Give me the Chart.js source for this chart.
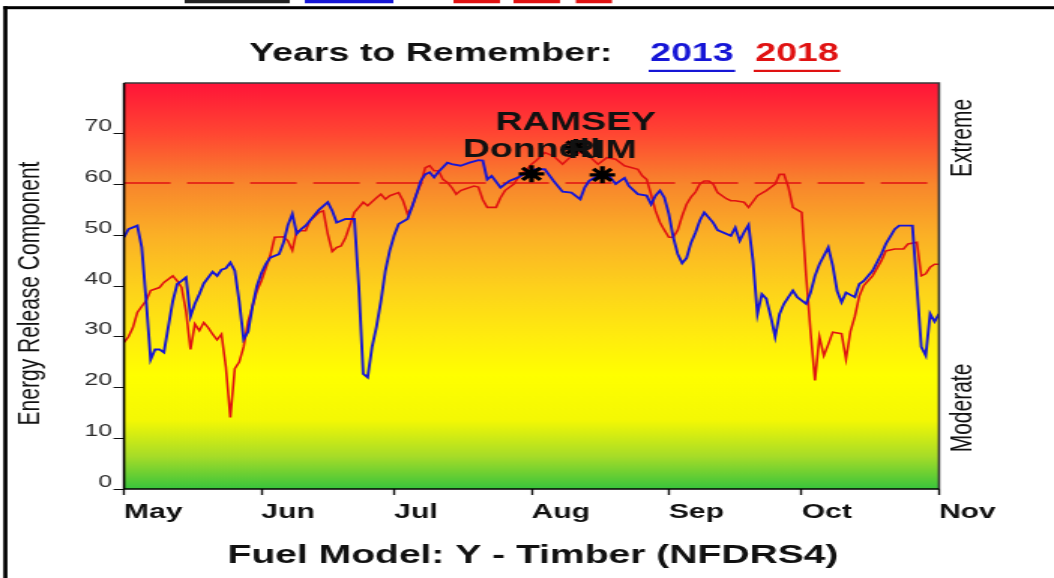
<!DOCTYPE html>
<html><head><meta charset="utf-8">
<script src="https://cdn.jsdelivr.net/npm/chart.js@4.4.1/dist/chart.umd.min.js"></script>
<style>
html,body{margin:0;padding:0;background:#fff;overflow:hidden}
</style></head>
<body>
<canvas id="c" width="702" height="578" style="display:block;width:1054px;height:578px"></canvas>
<script>
// ---- data ----
const monthDays = [0, 31, 61, 92, 123, 153, 184];           // days since May 1
const monthLabels = ['May', 'Jun', 'Jul', 'Aug', 'Sep', 'Oct', 'Nov'];
const yTickValues = [0, 10, 20, 30, 40, 50, 60, 70];

const days2013 = [0,1,3,4,5,6,7,8,9,10,11,12,13,14,15,16,17,18,20,21,22,23,24,25,26,27,28,29,30,31,32,33,35,36,37,38,39,40,41,42,44,46,47,48,50,52,53,54,55,56,57,58,59,60,61,62,64,65,66,67,68,69,70,71,73,74,76,78,80,81,82,83,85,87,89,91,93,95,97,99,101,103,104,105,107,109,111,113,114,116,118,119,120,121,122,123,124,125,126,127,128,129,130,131,133,134,137,138,139,140,141,142,143,144,145,146,147,148,149,151,152,154,155,156,157,159,160,161,162,163,165,166,167,169,171,172,174,175,178,179,180,181,182,183,184];
const erc2013 = [49.6,51.2,51.9,47.6,37,25.5,27.5,27.5,26.9,32,37,40.4,41,41.7,34,36.5,38.4,40.5,42.8,42,43.2,43.5,44.6,43,37,29.5,31,36,40,42.5,44.3,45.6,46.3,48.5,52,54.2,50.3,51.2,51.9,52.9,55,56.5,54.8,52.5,53.2,53.2,40,22.7,22,28,32,37,43,47,50,52.2,53.2,55.5,58,60.7,62,62.4,61.4,62.5,64.3,64,63.7,64.3,64.8,64.7,61,61.7,59.4,60.7,61.4,62.4,63,63,60.7,58.6,58.4,57.1,59.4,60.7,61.7,62.2,60.1,61.3,59.7,58.1,57.8,56.1,57.8,58.8,57.4,54.2,49.6,46.3,44.5,45.5,48.5,50.5,52.9,54.5,52.5,51,49.9,51.5,48.9,50.6,52,45,34.5,38.4,37.5,34,30,34.5,36.5,39.1,37.8,36.5,38.7,42,44.3,47.6,44,39,36.8,38.7,37.8,40.4,41,43,46.3,48.3,51.2,51.9,51.9,40,28,26.3,34.5,33,34.5];

const days2018 = [0,1,2,3,4,5,6,8,9,11,12,13,14,15,16,17,18,19,20,21,22,23,24,25,26,27,28,29,30,31,32,33,34,36,37,38,39,41,42,44,45,46,47,48,49,50,51,52,53,54,55,57,58,59,60,62,63,64,65,66,67,68,69,70,71,72,73,74,75,76,77,79,80,81,82,84,85,86,88,89,91,92,93,95,97,99,101,103,105,107,109,111,113,116,117,118,119,120,121,122,123,124,125,126,127,128,129,130,131,132,133,134,136,137,138,140,141,143,145,147,148,149,150,151,153,154,155,156,157,158,159,160,162,163,164,165,166,167,169,171,172,174,176,177,179,180,181,182,183,184];
const erc2018 = [28.9,30,31.8,34.8,36,37.1,39.1,39.7,40.7,42,41,39.7,35,27.5,32.5,31.2,32.8,31.8,30.5,29.4,30.5,24,14.1,23.7,25,28,33,36,39,41,43.5,46,49.6,49.7,48.9,47,50.9,50.9,52.9,54.5,54.8,50.2,46.8,47.6,47.9,49.5,52,54.5,55.5,56.5,55.8,57.4,58.1,57.1,57.8,58.4,56.8,54.2,55.5,58.1,60.1,63.3,63.7,62.7,62.7,61,60.4,59.4,58.1,58.8,59.1,59.7,59.5,57,55.5,55.5,57.4,58.8,60.1,61.4,63,64,64.7,66.3,65.6,64,65.6,66.3,65.6,64,65.3,65,63.7,63,61.7,61,58,54.8,52.5,51,49.6,49.6,51,53.8,56.1,57.5,58.5,60.1,60.7,60.7,60.1,58.4,57.2,56.8,56.8,56.5,55.5,57.8,58.8,60.1,62,62,59.5,55.5,54.5,42,31,21.4,30,26.3,28.5,30.9,30.6,25.6,31,34,38,40.1,42,45,46.9,47.3,47.3,48.3,48.6,42,42.4,43.7,44.3,44.3];

const thresholdERC = 60.3;
const eventNames = ['Donnell', 'RAMSEY', 'RIM'];
const eventDays = [92, 102, 108];
const eventERC = [62.1, 67.3, 61.9];

const titleText = 'Years to Remember:';
const yearLabels = ['2013', '2018'];
const xAxisTitle = 'Fuel Model: Y - Timber (NFDRS4)';
const yAxisTitle = 'Energy Release Component';
const sideLabels = ['Extreme', 'Moderate'];

// ---- helpers ----
const FONT = '"Liberation Sans", Arial, sans-serif';
const toXY = (xs, ys) => xs.map((d, i) => ({ x: d, y: ys[i] }));
const BLUE = '#1616d6', RED = '#e01212';

const bgPlugin = {
  id: 'bg',
  beforeDatasetsDraw(chart) {
    const { ctx, chartArea: a } = chart;
    const g = ctx.createLinearGradient(0, a.top, 0, a.bottom);
    g.addColorStop(0, '#ff1438');
    g.addColorStop(0.125, '#ff4632');
    g.addColorStop(0.25, '#f8862c');
    g.addColorStop(0.375, '#fbb026');
    g.addColorStop(0.5, '#fdd01c');
    g.addColorStop(0.625, '#ffec0e');
    g.addColorStop(0.72, '#ffff00');
    g.addColorStop(0.83, '#f4f804');
    g.addColorStop(0.92, '#a6dc28');
    g.addColorStop(1, '#38c43c');
    ctx.save();
    ctx.fillStyle = g;
    ctx.fillRect(a.left, a.top, a.right - a.left, a.bottom - a.top);
    ctx.restore();
  }
};

const framePlugin = {
  id: 'frame',
  afterDatasetsDraw(chart) {
    const { ctx, chartArea: a } = chart;
    ctx.save();
    // event labels
    const meta = chart.getDatasetMeta(0);
    ctx.font = 'bold 25px ' + FONT;
    ctx.fillStyle = '#111';
    ctx.textAlign = 'center';
    ctx.textBaseline = 'alphabetic';
    meta.data.forEach((pt, i) => {
      ctx.fillText(eventNames[i], pt.x, pt.y - 17);
    });
    // plot border
    ctx.lineWidth = 1.6;
    ctx.strokeStyle = '#3a3a3a';
    ctx.beginPath();
    ctx.moveTo(a.left, a.top); ctx.lineTo(a.right, a.top); ctx.lineTo(a.right, a.bottom);
    ctx.stroke();
    ctx.strokeStyle = '#000';
    ctx.beginPath();
    ctx.moveTo(a.right, a.bottom); ctx.lineTo(a.left, a.bottom); ctx.lineTo(a.left, a.top);
    ctx.stroke();
    ctx.restore();
  }
};

const textPlugin = {
  id: 'texts',
  afterDraw(chart) {
    const { ctx, chartArea: a } = chart;
    ctx.save();
    // outer frame
    ctx.fillStyle = '#000';
    ctx.fillRect(2.2, 6.2, 2.7, chart.height);
    ctx.fillRect(2.2, 6.2, chart.width, 3);
    // cut-off legend samples at the very top
    ctx.lineWidth = 3.5;
    ctx.strokeStyle = '#222';
    ctx.beginPath(); ctx.moveTo(123, 1.5); ctx.lineTo(193, 1.5); ctx.stroke();
    ctx.strokeStyle = BLUE;
    ctx.beginPath(); ctx.moveTo(203, 1.5); ctx.lineTo(262, 1.5); ctx.stroke();
    ctx.strokeStyle = RED;
    [[302, 333], [342, 373], [383.5, 407.6]].forEach(([s, e]) => {
      ctx.beginPath(); ctx.moveTo(s, 1.5); ctx.lineTo(e, 1.5); ctx.stroke();
    });
    // title
    ctx.font = 'bold 25px ' + FONT;
    ctx.textAlign = 'left';
    ctx.textBaseline = 'alphabetic';
    ctx.fillStyle = '#111';
    ctx.fillText(titleText, 166, 60.5);
    const yearX = [433, 503];
    const yearCol = [BLUE, RED];
    yearLabels.forEach((t, i) => {
      ctx.fillStyle = yearCol[i];
      ctx.fillText(t, yearX[i], 60.5);
      const w = ctx.measureText(t).width;
      ctx.fillRect(yearX[i] - 1, 69.8, w + 2, 2.2);
    });
    // x axis title
    ctx.fillStyle = '#111';
    ctx.font = 'bold 26px ' + FONT;
    ctx.textAlign = 'center';
    ctx.fillText(xAxisTitle, (a.left + a.right) / 2 + 1, 563);
    // y axis title (rotated)
    ctx.font = '21px ' + FONT;
    ctx.save();
    ctx.translate(26, 293.5);
    ctx.rotate(-Math.PI / 2);
    ctx.fillText(yAxisTitle, 0, 0);
    ctx.restore();
    // right side labels
    const sideY = [138, 408];
    sideLabels.forEach((t, i) => {
      ctx.save();
      ctx.translate(646.5, sideY[i]);
      ctx.rotate(-Math.PI / 2);
      ctx.fillText(t, 0, 0);
      ctx.restore();
    });
    ctx.restore();
  }
};

new Chart(document.getElementById('c'), {
  type: 'line',
  data: {
    datasets: [
      {
        label: 'Fires',
        data: toXY(eventDays, eventERC),
        showLine: false,
        pointStyle: 'star',
        pointRadius: 8.5,
        pointBorderWidth: 3.2,
        borderColor: '#000',
        backgroundColor: '#000'
      },
      {
        label: '2013',
        data: toXY(days2013, erc2013),
        borderColor: BLUE,
        borderWidth: 1.9,
        pointRadius: 0,
        tension: 0
      },
      {
        label: '2018',
        data: toXY(days2018, erc2018),
        borderColor: RED,
        borderWidth: 1.6,
        pointRadius: 0,
        tension: 0
      },
      {
        label: 'Threshold',
        data: [{ x: monthDays[0], y: thresholdERC }, { x: monthDays[monthDays.length - 1], y: thresholdERC }],
        borderColor: RED,
        borderWidth: 1.6,
        borderDash: [31, 11],
        pointRadius: 0
      }
    ]
  },
  options: {
    responsive: false,
    animation: false,
    devicePixelRatio: 1,
    layout: { padding: { top: 83, left: 0, right: 76.6, bottom: 0 } },
    plugins: { legend: { display: false }, title: { display: false }, tooltip: { enabled: false } },
    scales: {
      x: {
        type: 'linear',
        min: monthDays[0],
        max: monthDays[monthDays.length - 1],
        afterBuildTicks: (s) => { s.ticks = monthDays.map(v => ({ value: v })); },
        afterFit: (s) => { s.height = 89; },
        ticks: {
          callback: (v) => monthLabels[monthDays.indexOf(v)],
          align: 'start',
          autoSkip: false,
          maxRotation: 0,
          padding: 5,
          color: '#111',
          font: { family: FONT, size: 20, weight: 'bold' }
        },
        grid: { drawOnChartArea: false, drawTicks: true, tickLength: 6, tickWidth: 1.4, tickColor: '#111' },
        border: { display: false }
      },
      y: {
        min: 0,
        max: 80,
        afterBuildTicks: (s) => { s.ticks = yTickValues.map(v => ({ value: v })); },
        afterFit: (s) => { s.width = 82.6; },
        ticks: {
          padding: 1,
          labelOffset: -7,
          color: '#2a2a2a',
          font: { family: FONT, size: 16.5 }
        },
        grid: { drawOnChartArea: false, drawTicks: true, tickLength: 7, tickWidth: 1, tickColor: '#111' },
        border: { display: false }
      }
    }
  },
  plugins: [bgPlugin, framePlugin, textPlugin]
});
</script>
</body></html>
